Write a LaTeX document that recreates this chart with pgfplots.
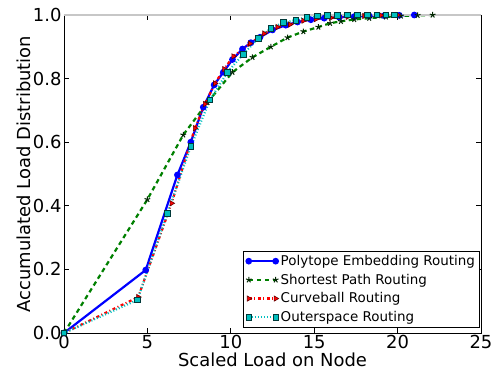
\documentclass[border=0pt]{standalone}
\usepackage{fontspec}
\setmainfont{DejaVu Sans}
\usepackage{pgfplots}
\pgfplotsset{compat=1.18}
\definecolor{mplblue}{rgb}{0,0,1}
\definecolor{mplgreen}{rgb}{0,0.5,0}
\definecolor{mplred}{rgb}{1,0,0}
\definecolor{mplcyan}{rgb}{0,0.75,0.75}
\begin{document}
\begin{tikzpicture}
\useasboundingbox (-64bp,-46bp) rectangle (434bp,333bp);
\begin{axis}[
  at={(0,0)}, anchor=south west,
  scale only axis, width=417bp, height=318bp,
  xmin=0, xmax=25, ymin=0, ymax=1,
  xtick={0,5,10,15,20,25}, ytick={0,0.2,0.4,0.6,0.8,1.0},
  yticklabel style={xshift=1bp, /pgf/number format/fixed, /pgf/number format/fixed zerofill, /pgf/number format/precision=1},
  /pgf/number format/assume math mode=true,
  tick align=inside, tick pos=both,
  major tick length=5bp,
  tick style={black, line width=0.6bp},
  minor tick num=0,
  axis line style={black, line width=0.8bp},
  ticklabel style={font=\fontsize{18}{20}\selectfont},
  xticklabel style={yshift=1.5bp},
  xlabel={Scaled Load on Node}, ylabel={Accumulated Load Distribution},
  label style={font=\fontsize{18}{20}\selectfont},
  xlabel style={yshift=2.5bp},
  ylabel style={yshift=-5bp},
  legend style={font=\fontsize{13.5}{15}\selectfont, draw=black, line width=0.6bp, row sep=3bp, inner sep=2.5bp, at={(0.997,0.016)}, anchor=south east, cells={anchor=west}},
  legend image code/.code={\draw[mark repeat=1,#1] plot coordinates {(0cm,0cm) (0.95cm,0cm)};},
]
\addplot[mplblue, line width=2.2bp, mark=*, mark size=2.2bp, mark options={solid, fill=mplblue, draw=mplblue}] coordinates {
(0,0) (4.9,0.198) (6.8,0.497) (7.6,0.6) (8.35,0.71) (9.0,0.78) (9.55,0.82) (10.1,0.86) (10.7,0.893) (11.2,0.913) (11.75,0.93) (12.5,0.953) (13.3,0.968) (14.0,0.978) (14.8,0.985) (15.6,0.99) (16.5,0.993) (17.4,0.995) (18.3,0.997) (19.2,0.998) (20.1,0.999) (21.0,1.0)};
\addlegendentry{Polytope Embedding Routing}
\addplot[mplgreen, line width=2.2bp, dash pattern=on 4.5bp off 3.5bp, mark=star, mark size=3bp, mark options={solid, draw=black!70!mplgreen, line width=1bp}] coordinates {
(0,0) (5.0,0.42) (7.15,0.623) (8.6,0.725) (10.1,0.82) (11.3,0.867) (12.4,0.90) (13.4,0.929) (14.35,0.948) (15.25,0.962) (15.95,0.974) (16.6,0.98) (17.4,0.986) (18.3,0.99) (19.3,0.994) (20.2,0.997) (21.2,0.999) (22.1,1.0)};
\addlegendentry{Shortest Path Routing}
\addplot[mplred, line width=2.2bp, dash pattern=on 3bp off 2.5bp on 1bp off 2.5bp, mark=triangle*, mark size=3bp, mark options={solid, rotate=-90, fill=mplred, draw=black!60!mplred, line width=0.6bp}] coordinates {
(0,0) (4.45,0.113) (6.45,0.408) (7.85,0.644) (8.45,0.72) (9.05,0.785) (9.6,0.83) (10.15,0.87) (11.15,0.91) (12.0,0.942) (12.8,0.962) (13.55,0.97) (14.35,0.982) (15.1,0.987) (16.0,0.991) (17.0,0.994) (18.0,0.997) (19.0,0.999) (20.0,1.0)};
\addlegendentry{Curveball Routing}
\addplot[mplcyan, line width=2.2bp, dash pattern=on 1bp off 2bp, mark=square*, mark size=2.8bp, mark options={solid, fill=mplcyan, draw=black!70!mplcyan, line width=0.7bp}] coordinates {
(0,0) (4.4,0.104) (6.2,0.376) (7.6,0.586) (8.75,0.733) (9.8,0.82) (10.75,0.877) (11.65,0.927) (12.4,0.958) (13.15,0.976) (13.9,0.984) (14.55,0.993) (15.2,0.997) (15.8,0.998) (16.4,0.999) (17.0,1.0) (17.6,1.0) (18.2,1.0) (18.75,1.0) (19.3,1.0) (19.8,1.0)};
\addlegendentry{Outerspace Routing}
\draw[black!22, line width=1.2bp] (rel axis cs:0,1) -- (rel axis cs:1,1);
\end{axis}
\end{tikzpicture}
\end{document}
